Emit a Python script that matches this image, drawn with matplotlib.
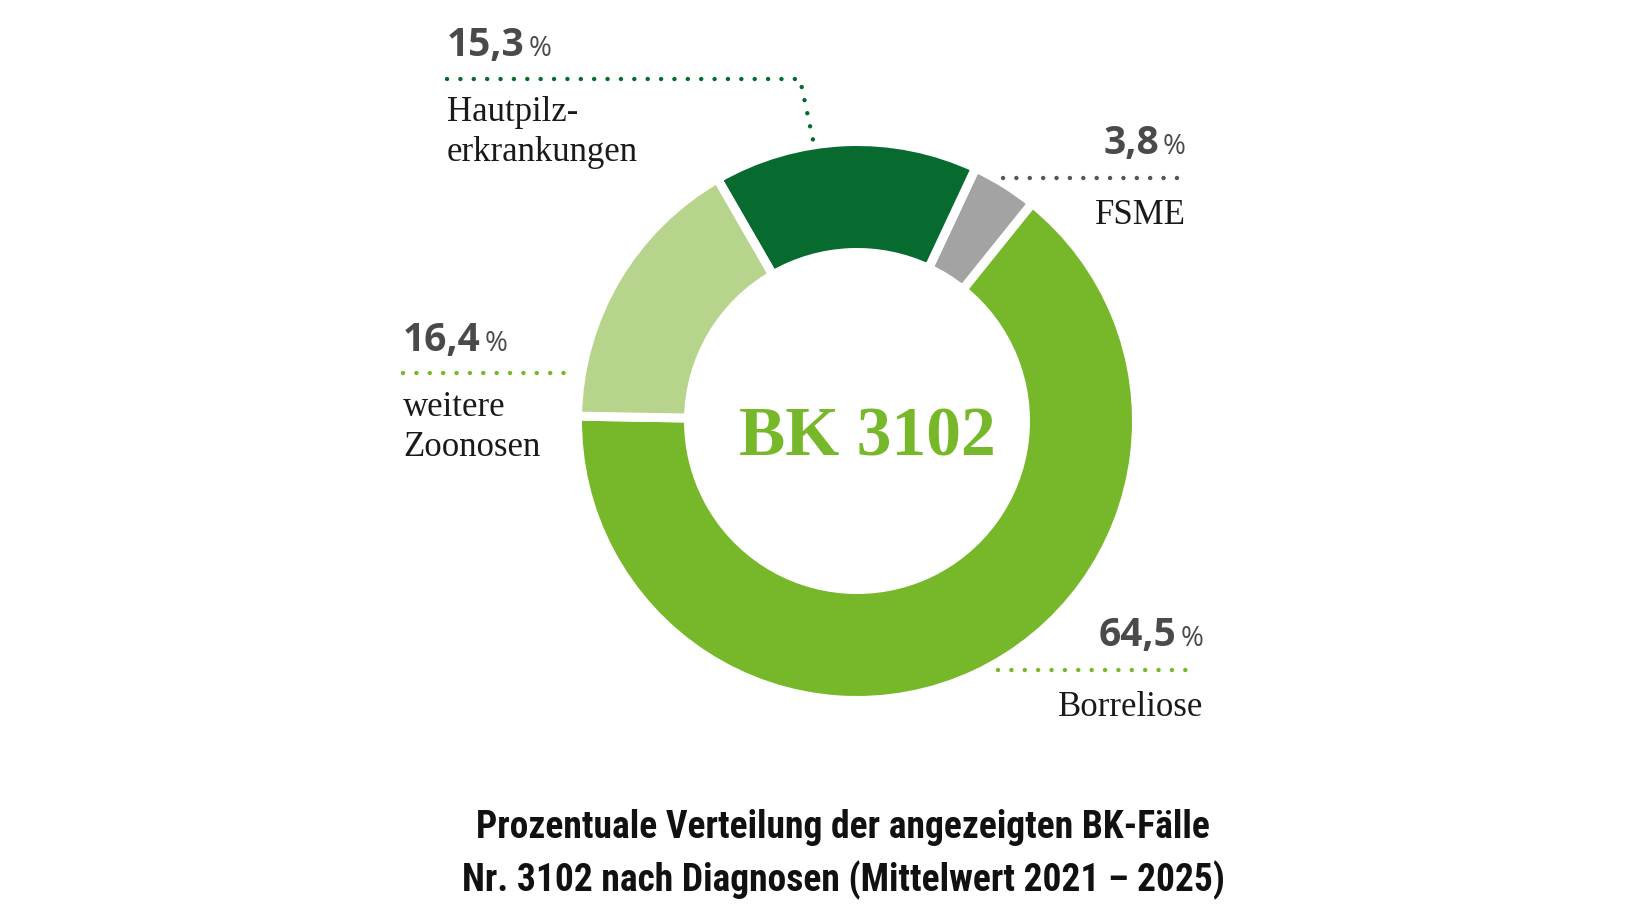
import matplotlib
matplotlib.use("Agg")
import matplotlib.pyplot as plt

# --------------------------------------------------
# Data
# --------------------------------------------------
diagnoses = ["Borreliose", "FSME", "Hautpilzerkrankungen", "weitere Zoonosen"]
shares = [64.5, 3.8, 15.3, 16.4]
share_labels = ["64,5", "3,8", "15,3", "16,4"]
label_lines = [["Borreliose"], ["FSME"], ["Hautpilz-", "erkrankungen"], ["weitere", "Zoonosen"]]
colors = ["#76b82a", "#a3a3a3", "#076b30", "#b6d48b"]
leader_colors = ["#76b82a", "#555555", "#076b30", "#76b82a"]

center_label = "BK 3102"
title_lines = ["Prozentuale Verteilung der angezeigten BK-Fälle",
               "Nr. 3102 nach Diagnosen (Mittelwert 2021 \u2013 2025)"]

# --------------------------------------------------
# Layout (pixel coordinates, y down)
# --------------------------------------------------
W, H = 1632, 919
CENTER = (857, 421)
GAP_PX = 9
R_OUT = 275 + GAP_PX / 2
R_IN = 173 - GAP_PX / 2

# per diagnosis: (x, align, pct baseline, leader line xs, ys, label baselines)
label_layout = [
    (1203, "right", 646, [998, 1192], [670, 670], [716]),
    (1186, "right", 154, [1003, 1185], [178, 178], [224]),
    (447, "left", 56, [447, 800, 813], [79, 79, 140], [121, 161]),
    (403, "left", 351, [403, 575], [373, 373], [416, 456]),
]

PCT_COLOR = "#4a4a4a"
TEXT_COLOR = "#1a1a1a"
SERIF = ["Liberation Serif", "DejaVu Serif"]
SANS = ["Open Sans", "DejaVu Sans"]

fig = plt.figure(figsize=(W / 100, H / 100), dpi=100)
ax = fig.add_axes([0, 0, 1, 1])

ax.pie(
    shares,
    colors=colors,
    radius=R_OUT,
    center=CENTER,
    startangle=-179,
    counterclock=False,
    wedgeprops=dict(width=R_OUT - R_IN, edgecolor="white", linewidth=GAP_PX * 0.72),
)
ax.set_xlim(0, W)
ax.set_ylim(H, 0)
ax.set_aspect("equal")
ax.axis("off")

renderer = fig.canvas.get_renderer()

for i, name in enumerate(diagnoses):
    x, align, pct_y, lx, ly, label_ys = label_layout[i]

    # leader line with round dots
    ax.plot(lx, ly, color=leader_colors[i], linewidth=3.2,
            linestyle=(0, (0.01, 3.0)), dash_capstyle="round")

    # percentage value + smaller "%" sign
    if align == "left":
        t = ax.text(x, pct_y, share_labels[i], ha="left", va="baseline",
                    fontsize=28, fontweight="bold", color=PCT_COLOR, family=SANS)
        bb = t.get_window_extent(renderer)
        ax.text(bb.x1 + 4, pct_y, "%", ha="left", va="baseline",
                fontsize=20, color=PCT_COLOR, family=SANS)
    else:
        p = ax.text(x, pct_y, "%", ha="right", va="baseline",
                    fontsize=20, color=PCT_COLOR, family=SANS)
        bb = p.get_window_extent(renderer)
        ax.text(bb.x0 - 4, pct_y, share_labels[i], ha="right", va="baseline",
                fontsize=28, fontweight="bold", color=PCT_COLOR, family=SANS)

    # diagnosis name
    for line, y in zip(label_lines[i], label_ys):
        ax.text(x, y, line, ha=align, va="baseline", fontsize=25,
                color=TEXT_COLOR, family=SERIF)

# --------------------------------------------------
# Center label and caption
# --------------------------------------------------
ax.text(867, 455, center_label, ha="center", va="baseline", fontsize=50,
        fontweight="bold", color="#76b82a", family=SERIF)

for line, y in zip(title_lines, [838, 891]):
    ax.text(843, y, line, ha="center", va="baseline", fontsize=27,
            fontweight="bold", fontstretch="condensed", color="#111111",
            family=["Roboto Condensed", "Roboto", "DejaVu Sans"])

fig.savefig("out.png", dpi=100, facecolor="white")
